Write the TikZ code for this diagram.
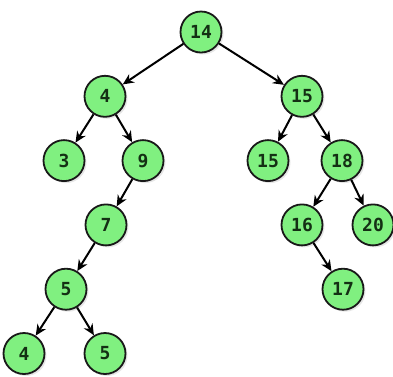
\documentclass[tikz,border=0pt]{standalone}
\usepackage{fontspec}
\newfontfamily\keyfont{DejaVu Sans Mono}
\usepackage{tikz}
\usetikzlibrary{positioning,arrows.meta,shadows}

\definecolor{keyfill}{RGB}{128,240,128}
\definecolor{keytext}{RGB}{20,48,20}

\tikzset{
  key/.style={circle, draw=black!90, line width=1.8pt, fill=keyfill,
    minimum size=41pt, inner sep=0pt, text=keytext,
    font=\keyfont\bfseries\fontsize{18}{18}\selectfont,
    drop shadow={opacity=0.2, shadow xshift=2pt, shadow yshift=-2pt}},
  link/.style={line width=2pt, -{Stealth[length=11pt,width=10pt]}}
}

\begin{document}
\begin{tikzpicture}[x=1pt, y=-1pt, node distance=21.5pt]
  \useasboundingbox (0,0) rectangle (393,376);
  \node[key] at (201,32) (k14) {14};
  \node[key, below=of k14, xshift=-96pt] (k4) {4};
  \node[key, below=of k14, xshift=101pt] (k15) {15};
  \node[key, below=of k4, xshift=-41pt]  (k3) {3};
  \node[key, below=of k4, xshift=38pt]   (k9) {9};
  \node[key, below=of k15, xshift=-34pt] (k15b) {15};
  \node[key, below=of k15, xshift=40pt]  (k18) {18};
  \node[key, below=of k9, xshift=-37pt]  (k7) {7};
  \node[key, below=of k18, xshift=-40pt] (k16) {16};
  \node[key, below=of k18, xshift=31pt]  (k20) {20};
  \node[key, below=of k7, xshift=-40pt]  (k5) {5};
  \node[key, below=of k16, xshift=41pt]  (k17) {17};
  \node[key, below=of k5, xshift=-42pt]  (k4b) {4};
  \node[key, below=of k5, xshift=39pt]   (k5b) {5};

  % Connect the keys
  \foreach \a/\b in {k14/k4, k14/k15, k4/k3, k4/k9, k15/k15b, k15/k18,
                     k9/k7, k18/k16, k18/k20, k7/k5, k16/k17, k5/k4b, k5/k5b}
    \draw[link] (\a) -- (\b);
\end{tikzpicture}
\end{document}
